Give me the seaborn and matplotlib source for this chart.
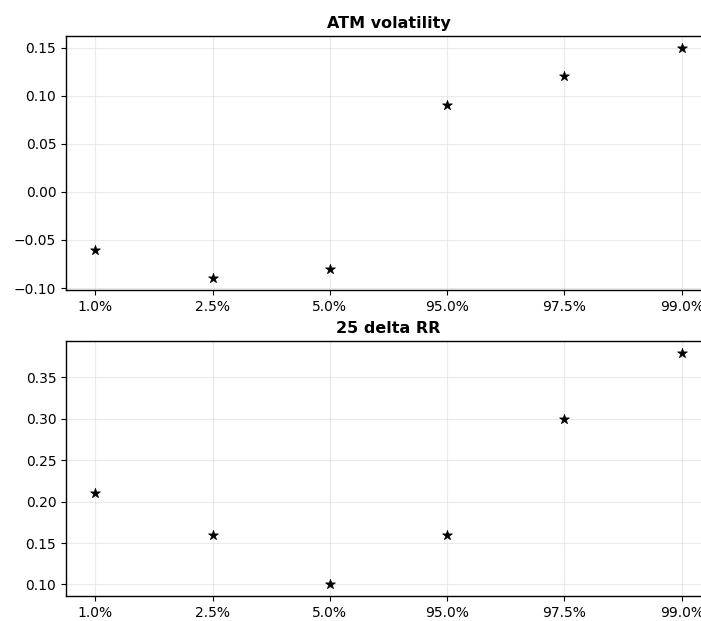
import matplotlib
matplotlib.use("Agg")
import matplotlib.pyplot as plt
import seaborn as sns
import pandas as pd

quantiles = ["1.0%", "2.5%", "5.0%", "95.0%", "97.5%", "99.0%"]
atm_vol = [-0.06, -0.09, -0.08, 0.09, 0.12, 0.15]
rr25 = [0.21, 0.16, 0.10, 0.16, 0.30, 0.38]

sns.set_style("ticks")
plt.rcParams["font.family"] = ["DejaVu Sans"]
plt.rcParams["text.color"] = "black"

fig = plt.figure(figsize=(7.01, 6.21), dpi=100)
ax1 = fig.add_axes([66/701, (621-290)/621, (711-66)/701, 254/621])
ax2 = fig.add_axes([66/701, (621-596)/621, (711-66)/701, 255/621])

for ax, vals, title in [(ax1, atm_vol, "ATM volatility"), (ax2, rr25, "25 delta RR")]:
    df = pd.DataFrame({"q": quantiles, "v": vals})
    sns.scatterplot(data=df, x="q", y="v", marker="*", s=55, color="black",
                    edgecolor="black", linewidth=0.5, ax=ax, zorder=3)
    ax.set_title(title, fontweight="bold", fontsize=11.5, color="black")
    ax.set_xlabel("")
    ax.set_ylabel("")
    ax.grid(True, color="#dddddd", alpha=0.6, linewidth=0.8)
    ax.tick_params(labelsize=10, colors="black")
    for s in ax.spines.values():
        s.set_color("black")
        s.set_linewidth(1.0)

fig.savefig("out.png", dpi=100)
